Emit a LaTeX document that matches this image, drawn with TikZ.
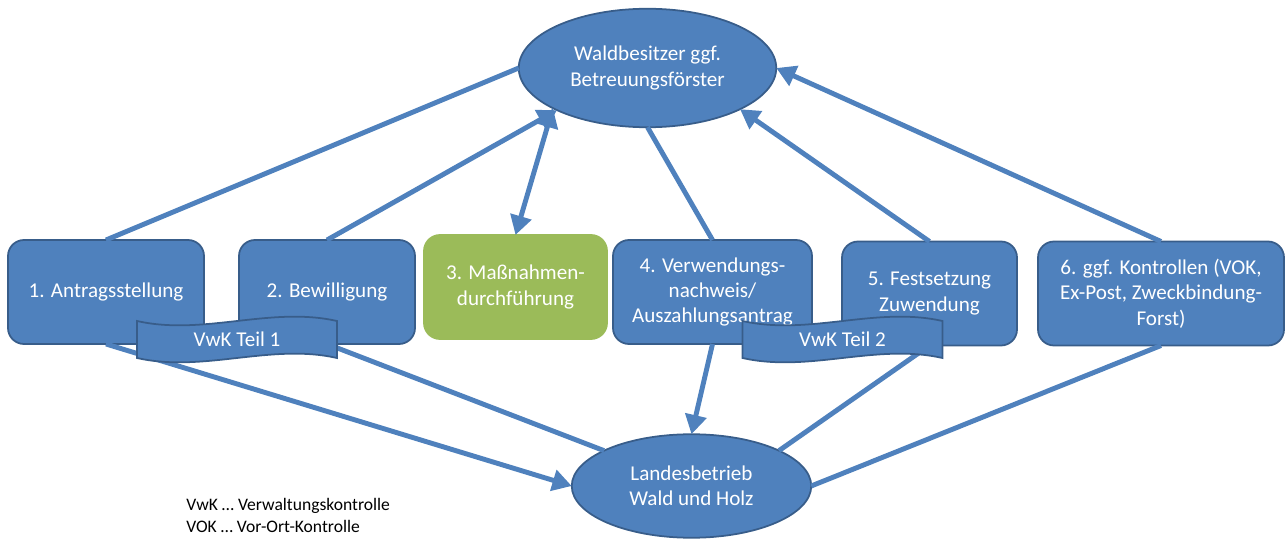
\documentclass[tikz,border=0pt]{standalone}
\usepackage{fontspec}
\setmainfont{Carlito}
\usepackage{xcolor}
\usepackage{tikz}
\usetikzlibrary{shapes.geometric, arrows.meta, positioning, calc}
\definecolor{boxblue}{HTML}{4F81BD}
\definecolor{boxborder}{HTML}{385D8A}
\definecolor{boxgreen}{HTML}{9BBB59}
\tikzstyle{stage} = [rectangle, rounded corners=0.32cm, minimum height=2.08cm, text centered, align=center, draw=boxborder, line width=1pt, outer sep=0pt, fill=boxblue, text=white, inner sep=2pt, font=\fontsize{12}{14.5}\selectfont]
\tikzstyle{party} = [ellipse, minimum width=5.15cm, minimum height=2.37cm, align=center, draw=boxborder, line width=1pt, outer sep=0pt, fill=boxblue, text=white, inner sep=0pt, font=\fontsize{12}{14.5}\selectfont]
\tikzstyle{link} = [line width=2.8pt, draw=boxblue]
\tikzstyle{arrow} = [link, -{Triangle[length=11pt,width=12pt]}]
\tikzstyle{twoway} = [link, {Triangle[length=11pt,width=12pt]}-{Triangle[length=11pt,width=12pt]}]
\tikzstyle{wave} = [fill=boxblue, draw=boxborder, line width=1pt]
\tikzstyle{wavetext} = [text=white, inner sep=0pt, font=\fontsize{12}{14.5}\selectfont]

\begin{document}
\begin{tikzpicture}
    \useasboundingbox (0,0) rectangle (25.74,-10.8);

    % Steps
    \node[stage, minimum width=3.92cm] (antrag) at (2.12,-5.84) {1. Antragsstellung};
    \node[stage, minimum width=3.52cm, right=0.7cm of antrag] (bewilligung) {2. Bewilligung};
    \node[stage, minimum width=3.66cm, fill=boxgreen, draw=boxgreen, right=0.18cm of bewilligung, yshift=0.1cm] (massnahme) {3. Maßnahmen-\\durchführung};
    \node[stage, minimum width=3.98cm, right=0.12cm of massnahme, yshift=-0.1cm] (nachweis) {4. Verwendungs-\\nachweis/\\Auszahlungsantrag};
    \node[stage, minimum width=3.5cm, right=0.6cm of nachweis, yshift=-0.03cm] (festsetzung) {5. Festsetzung\\Zuwendung};
    \node[stage, minimum width=4.92cm, right=0.42cm of festsetzung] (kontrolle) {6. ggf. Kontrollen (VOK,\\Ex-Post, Zweckbindung-\\Forst)};

    % Parties
    \node[party] (waldbesitzer) at (12.95,-1.36) {Waldbesitzer ggf.\\Betreuungsförster};
    \node[party, minimum width=4.79cm, minimum height=2.07cm] (landesbetrieb) at (13.83,-9.72) {Landesbetrieb\\Wald und Holz};

    % Links to Waldbesitzer
    \draw[link] (antrag.north) -- (waldbesitzer.west);
    \draw[arrow] (bewilligung.north) -- (waldbesitzer.205);
    \draw[twoway] (waldbesitzer.203) -- (massnahme.north);
    \draw[link] (nachweis.north) -- (waldbesitzer.south);
    \draw[arrow] (festsetzung.north) -- (waldbesitzer.336);
    \draw[arrow] (kontrolle.north) -- (waldbesitzer.east);

    % Links to Landesbetrieb
    \draw[arrow] (antrag.south) -- (landesbetrieb.west);
    \draw[link] (bewilligung.south) -- (landesbetrieb.158);
    \draw[arrow] (nachweis.south) -- (landesbetrieb.north);
    \draw[link] (festsetzung.south) -- (landesbetrieb.22);
    \draw[link] (kontrolle.south) -- (landesbetrieb.east);

    % Banners
    \coordinate (vwk1) at (4.74,-6.79);
    \draw[wave] ($(vwk1)+(-2,0.37)$) .. controls +(1.33,-0.3) and +(-1.33,0.3) .. ($(vwk1)+(2,0.37)$)
        -- ($(vwk1)+(2,-0.37)$) .. controls +(-1.33,0.3) and +(1.33,-0.3) .. ($(vwk1)+(-2,-0.37)$) -- cycle;
    \node[wavetext] (vwk1text) at (vwk1) {VwK Teil 1};
    \coordinate (vwk2) at (16.85,-6.79);
    \draw[wave] ($(vwk2)+(-2,0.37)$) .. controls +(1.33,-0.3) and +(-1.33,0.3) .. ($(vwk2)+(2,0.37)$)
        -- ($(vwk2)+(2,-0.37)$) .. controls +(-1.33,0.3) and +(1.33,-0.3) .. ($(vwk2)+(-2,-0.37)$) -- cycle;
    \node[wavetext] (vwk2text) at (vwk2) {VwK Teil 2};

    % Legend
    \node[anchor=west, align=left, inner sep=0pt, font=\fontsize{10}{12.5}\selectfont] (legend) at (3.72,-10.3) {VwK … Verwaltungskontrolle\\VOK … Vor-Ort-Kontrolle};

\end{tikzpicture}
\end{document}
